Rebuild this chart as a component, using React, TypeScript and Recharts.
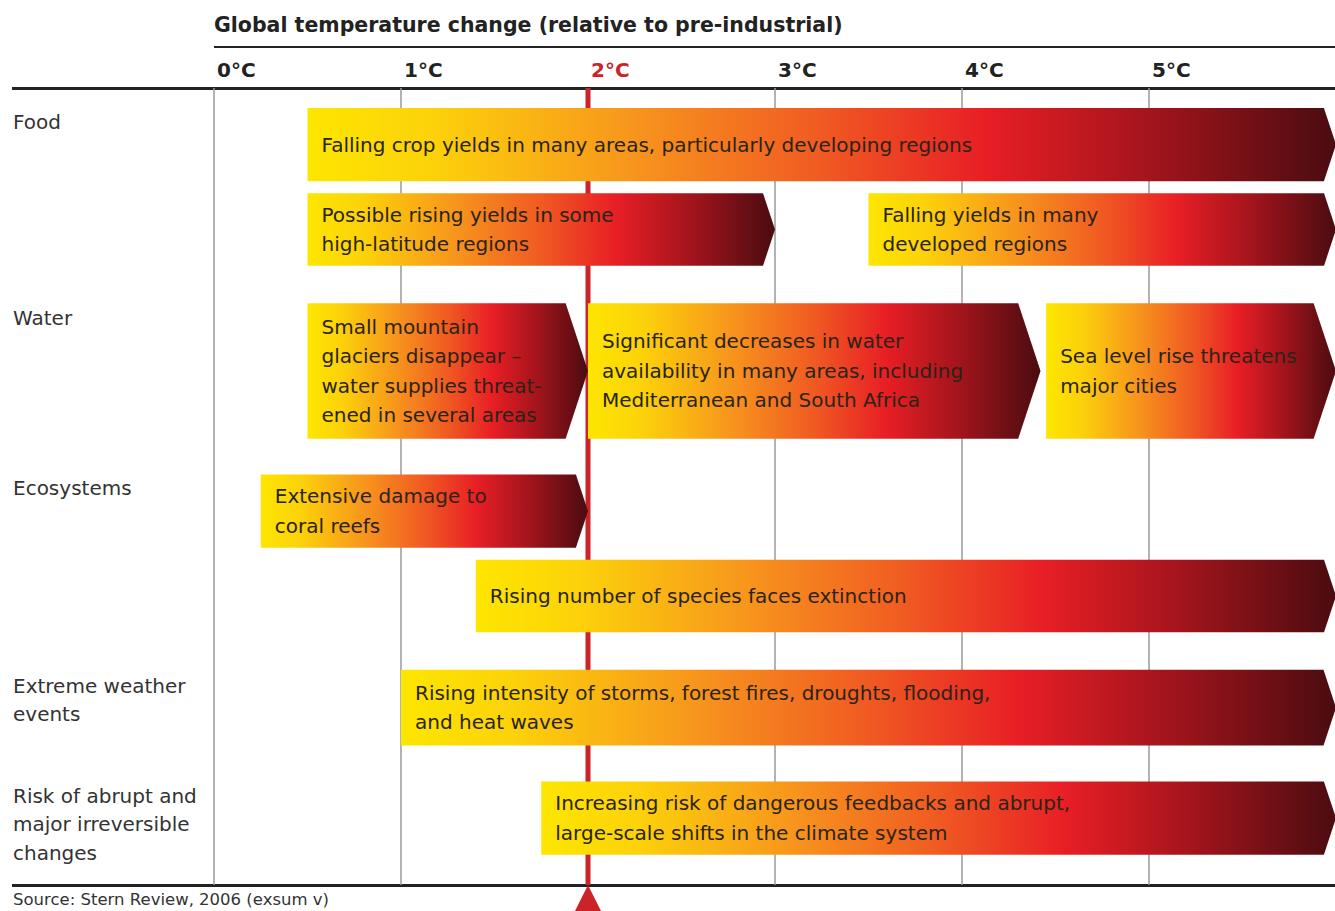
import {
  ComposedChart,
  XAxis,
  YAxis,
  CartesianGrid,
  ReferenceArea,
  ReferenceDot,
} from 'recharts'

// temperature axis (°C above pre-industrial)
const tempTicks = [0, 1, 2, 3, 4, 5]
const tempLabels = ['0°C', '1°C', '2°C', '3°C', '4°C', '5°C']

// impact groups on the left
const groupNames = [
  'Food',
  'Water',
  'Ecosystems',
  'Extreme weather\nevents',
  'Risk of abrupt and\nmajor irreversible\nchanges',
]
const groupPos = [0.43, 2.89, 5.02, 7.5, 8.88]

// one arrow per impact: temperature span and vertical band
const impactText = [
  'Falling crop yields in many areas, particularly developing regions',
  'Possible rising yields in some\nhigh-latitude regions',
  'Falling yields in many\ndeveloped regions',
  'Small mountain\nglaciers disappear –\nwater supplies threat-\nened in several areas',
  'Significant decreases in water\navailability in many areas, including\nMediterranean and South Africa',
  'Sea level rise threatens\nmajor cities',
  'Extensive damage to\ncoral reefs',
  'Rising number of species faces extinction',
  'Rising intensity of storms, forest fires, droughts, flooding,\nand heat waves',
  'Increasing risk of dangerous feedbacks and abrupt,\nlarge-scale shifts in the climate system',
]
const impactFrom = [0.5, 0.5, 3.5, 0.5, 2.0, 4.45, 0.25, 1.4, 1.0, 1.75]
const impactTo = [6, 3.0, 6, 2.0, 4.42, 6, 2.0, 6, 6, 6]
const impactTop = [0.25, 1.32, 1.32, 2.7, 2.7, 2.7, 4.85, 5.92, 7.3, 8.7]
const impactBottom = [1.17, 2.23, 2.23, 4.4, 4.4, 4.4, 5.77, 6.83, 8.25, 9.62]

// the 2°C threshold
const threshold = 2

const FONT = '"DejaVu Sans", Verdana, sans-serif'
const RED = '#cc2229'

function Arrow(props: any) {
  const { x, y, width, height, text } = props
  const tip = height * 0.165
  const pts = [
    [x, y],
    [x + width - tip, y],
    [x + width, y + height / 2],
    [x + width - tip, y + height],
    [x, y + height],
  ]
    .map((p) => p.join(','))
    .join(' ')
  const lines = String(text).split('\n')
  const lh = 29.5
  const startY = y + height / 2 - ((lines.length - 1) * lh) / 2
  return (
    <g>
      <polygon points={pts} fill="url(#heat)" />
      <text
        x={x + 14}
        y={startY}
        fontFamily={FONT}
        fontSize={20}
        fill="#2a2418"
        dominantBaseline="central"
      >
        {lines.map((l, i) => (
          <tspan key={i} x={x + 14} y={startY + i * lh}>
            {l}
          </tspan>
        ))}
      </text>
    </g>
  )
}

function TempTick(props: any) {
  const { x, payload } = props
  const i = tempTicks.indexOf(payload.value)
  return (
    <text
      x={x + 3}
      y={70}
      fontFamily={FONT}
      fontWeight="bold"
      fontSize={20}
      fill={payload.value === threshold ? RED : '#222'}
      dominantBaseline="central"
    >
      {tempLabels[i]}
    </text>
  )
}

function GroupTick(props: any) {
  const { y, payload } = props
  const i = groupPos.indexOf(payload.value)
  const lines = (groupNames[i] || '').split('\n')
  return (
    <text x={13} y={y} fontFamily={FONT} fontSize={20} fill="#333" dominantBaseline="central">
      {lines.map((l, k) => (
        <tspan key={k} x={13} y={y + k * 28.5}>
          {l}
        </tspan>
      ))}
    </text>
  )
}

export default function App() {
  return (
    <div
      style={{
        position: 'absolute',
        left: 0,
        top: 0,
        width: 1335,
        height: 911,
        overflow: 'hidden',
        background: '#fff',
        fontFamily: FONT,
      }}
    >
      <div
        style={{
          position: 'absolute',
          left: 214,
          top: 12,
          fontSize: 20.5,
          fontWeight: 'bold',
          color: '#222',
          lineHeight: '26px',
          whiteSpace: 'nowrap',
        }}
      >
        Global temperature change (relative to pre-industrial)
      </div>
      <div style={{ position: 'absolute', left: 214, top: 46, width: 1121, height: 2, background: '#222' }} />
      <div style={{ position: 'absolute', left: 12, top: 87, width: 1323, height: 3, background: '#222' }} />
      <div style={{ position: 'absolute', left: 12, top: 884, width: 1323, height: 3, background: '#222' }} />
      <div
        style={{
          position: 'absolute',
          left: 13,
          top: 890,
          fontSize: 16.5,
          color: '#333',
          lineHeight: '20px',
          whiteSpace: 'nowrap',
        }}
      >
        Source: Stern Review, 2006 (exsum v)
      </div>

      <div style={{ position: 'absolute', left: 0, top: 0 }}>
        <ComposedChart
          width={1340}
          height={911}
          data={[]}
          margin={{ top: 0, right: 4, bottom: 26, left: 0 }}
        >
          <defs>
            <linearGradient id="heat" x1="0" y1="0" x2="1" y2="0">
              <stop offset="0%" stopColor="#fde600" />
              <stop offset="12%" stopColor="#fcd20a" />
              <stop offset="32%" stopColor="#f7941d" />
              <stop offset="50%" stopColor="#f05a22" />
              <stop offset="66%" stopColor="#e81e25" />
              <stop offset="82%" stopColor="#a3141c" />
              <stop offset="100%" stopColor="#4a0c10" />
            </linearGradient>
          </defs>
          <CartesianGrid horizontal={false} stroke="#9a9a9a" strokeWidth={1.5} />
          <XAxis
            type="number"
            orientation="top"
            dataKey="t"
            domain={[0, 6]}
            ticks={tempTicks}
            height={88}
            axisLine={false}
            tickLine={false}
            tick={<TempTick />}
            allowDataOverflow
          />
          <YAxis
            type="number"
            domain={[0, 10]}
            reversed
            width={214}
            ticks={groupPos}
            axisLine={false}
            tickLine={false}
            tick={<GroupTick />}
            allowDataOverflow
          />
          {/* 2°C threshold line, kept under the arrows */}
          <ReferenceArea
            x1={threshold}
            x2={threshold}
            y1={0}
            y2={10}
            ifOverflow="visible"
            shape={(p: any) => (
              <rect x={p.x - 2.5} y={p.y} width={5} height={p.height} fill={RED} />
            )}
          />
          {impactText.map((t, i) => (
            <ReferenceArea
              key={i}
              x1={impactFrom[i]}
              x2={impactTo[i]}
              y1={impactTop[i]}
              y2={impactBottom[i]}
              ifOverflow="visible"
              shape={(p: any) => <Arrow {...p} text={t} />}
            />
          ))}
          <ReferenceDot
            x={threshold}
            y={10}
            ifOverflow="visible"
            shape={(p: any) => (
              <polygon
                points={`${p.cx},${p.cy} ${p.cx - 15},${p.cy + 30} ${p.cx + 15},${p.cy + 30}`}
                fill={RED}
              />
            )}
          />
        </ComposedChart>
      </div>
    </div>
  )
}
